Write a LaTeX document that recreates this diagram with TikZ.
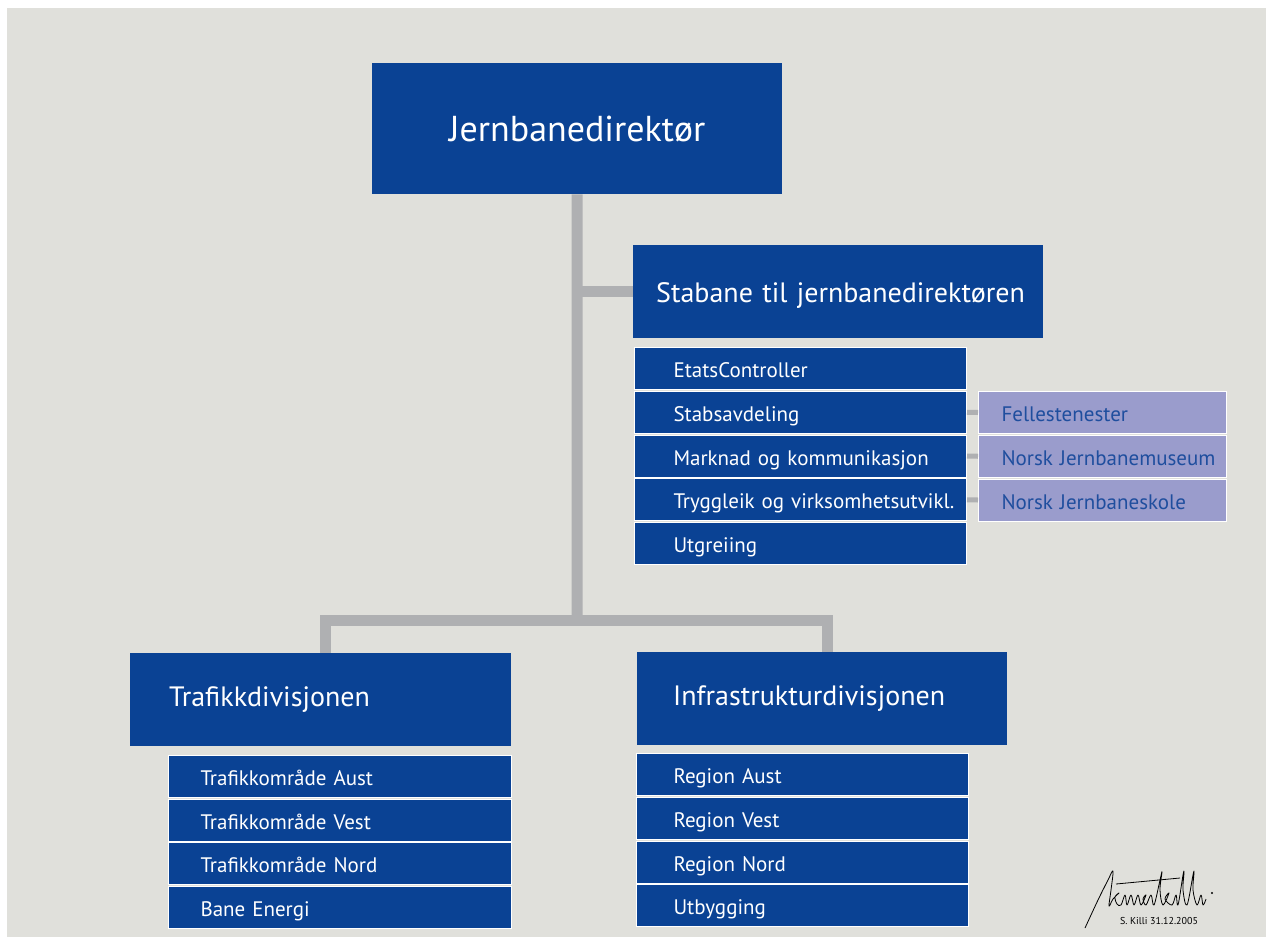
\documentclass[tikz,border=0pt]{standalone}
\usepackage{fontspec}
\setmainfont{PT Sans}
\usetikzlibrary{positioning,calc}

\definecolor{nsbblue}{RGB}{10,66,148}
\definecolor{paper}{RGB}{224,224,219}
\definecolor{wire}{RGB}{175,176,178}
\definecolor{lilac}{RGB}{154,156,204}
\definecolor{lilactext}{RGB}{31,78,158}

\begin{document}
\begin{tikzpicture}[
  x=1pt, y=-1pt,
  % blue boxes; text set from the left with a fixed indent
  unit/.style={fill=nsbblue, text=white, anchor=north west,
    inner ysep=0pt, align=left},
  chief/.style={unit, align=center, inner sep=0pt,
    minimum width=410pt, minimum height=131pt,
    font=\fontsize{36}{43}\selectfont},
  head/.style={unit, minimum height=93pt,
    font=\fontsize{28}{34}\selectfont},
  row/.style={unit, draw=white, line width=1pt, minimum height=42pt,
    text height=18pt, text depth=0pt,
    font=\fontsize{21}{25}\selectfont},
  staffrow/.style={row, inner xsep=39pt, text width=254pt},
  siderow/.style={row, fill=lilac, text=lilactext,
    inner xsep=23pt, text width=202pt},
  trunk/.style={wire, line width=11pt},
  twig/.style={wire, line width=5pt},
]

% ---------------------------------------------------------------
% Canvas: white margin round a grey sheet
% ---------------------------------------------------------------
\useasboundingbox (0,0) rectangle (1266,937);
\fill[paper] (7,8) rectangle (1266,937);

% --- Director ---
\node[chief] (dir) at (372,63) {Jernbanedirekt\o r};

% --- Staff ---
\node[head, inner xsep=23pt, text width=364pt,
      text height=22pt, text depth=0pt]
  (stab) at (633,245) {\rlap{Stabane til jernbanedirekt\o ren}};

\foreach \t [count=\i] in {EtatsController, Stabsavdeling,
    Marknad og kommunikasjon, Tryggleik og virksomhetsutvikl., Utgreiing}
  \node[staffrow] (staff\i) at (634,{347+(\i-1)*43.75}) {\rlap{\t}};

\foreach \t [count=\i] in {Fellestenester, Norsk Jernbanemuseum,
    Norsk Jernbaneskole}
  \node[siderow] (side\i) at (978,{391+(\i-1)*43.75}) {\rlap{\t}};

% --- Divisions ---
\node[head, inner xsep=39pt, text width=303pt]
  (traf) at (130,653) {\rlap{\strut Trafikkdivisjonen}};
\node[head, inner xsep=36pt, text width=298pt]
  (infra) at (637,652) {\rlap{\strut Infrastrukturdivisjonen}};

\foreach \t [count=\i] in {Trafikkomr\aa de Aust, Trafikkomr\aa de Vest,
    Trafikkomr\aa de Nord, Bane Energi}
  \node[row, inner xsep=32pt, text width=279pt]
    (trafsub\i) at (168,{755+(\i-1)*43.7}) {\rlap{\t}};

\foreach \t [count=\i] in {Region Aust, Region Vest, Region Nord, Utbygging}
  \node[row, inner xsep=37pt, text width=258pt]
    (infrasub\i) at (636,{753+(\i-1)*43.8}) {\rlap{\t}};

% ---------------------------------------------------------------
% Connectors
% ---------------------------------------------------------------
\coordinate (bar) at (577,620);
\draw[trunk] (dir.south) -- (bar);
\draw[trunk] (dir.south |- stab.west) -- (stab.west);
\draw[trunk] ([xshift=5pt]traf.north) |- (bar) -| ([xshift=5pt]infra.north);
\foreach \i/\j in {2/1, 3/2, 4/3}
  \draw[twig] (staff\i.east) -- (side\j.west);

% ---------------------------------------------------------------
% Signature
% ---------------------------------------------------------------
\draw[line width=0.8pt, line join=round] plot[smooth, tension=0.6] coordinates {
  (1085,928) (1098,900) (1108,880) (1113,871) (1111,890) (1109,906)
  (1113,899) (1119,893) (1115,897) (1117,904) (1121,905) (1125,895)
  (1127,905) (1131,895) (1134,905) (1138,895) (1141,905) (1146,895)
  (1143,899) (1146,905) (1151,895) (1154,905) (1160,880) (1162,872)
  (1160,890) (1163,905) (1169,893) (1165,899) (1172,905) (1176,895)
  (1178,905) (1183,875) (1184,873) (1183,890) (1187,905) (1193,875)
  (1194,873) (1193,890) (1197,905) (1201,895) (1203,905) (1206,899)};
\draw[line width=0.8pt] (1116,884) -- (1180,878);
\fill (1212,893) circle (1.2pt);
\node[font=\fontsize{10}{12}\selectfont, inner sep=0pt] (sig)
  at (1159,921) {S. Killi 31.12.2005};

\end{tikzpicture}
\end{document}
